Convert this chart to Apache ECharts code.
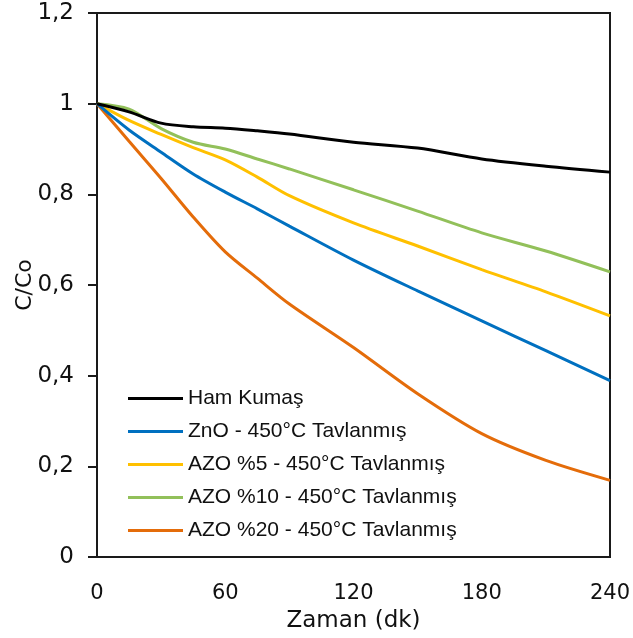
<!DOCTYPE html>
<html>
<head>
<meta charset="utf-8">
<script src="https://cdn.jsdelivr.net/npm/echarts@6/dist/echarts.min.js"></script>
<style>html,body{margin:0;padding:0;background:#fff}#c{width:633px;height:638px}</style>
</head>
<body>
<div id="c"></div>
<script>
const times = [0, 15, 30, 45, 60, 75, 90, 120, 150, 180, 210, 240];
const hamKumas = [1, 0.982, 0.957, 0.949, 0.946, 0.940, 0.933, 0.915, 0.902, 0.878, 0.862, 0.849];
const zno      = [1, 0.942, 0.893, 0.845, 0.805, 0.768, 0.730, 0.655, 0.587, 0.521, 0.455, 0.389];
const azo5     = [1, 0.963, 0.932, 0.903, 0.876, 0.838, 0.797, 0.737, 0.686, 0.634, 0.585, 0.532];
const azo10    = [1, 0.988, 0.945, 0.915, 0.900, 0.878, 0.856, 0.810, 0.763, 0.715, 0.675, 0.629];
const azo20    = [1, 0.917, 0.835, 0.750, 0.673, 0.615, 0.558, 0.462, 0.360, 0.272, 0.213, 0.169];
const seriesNames = ['Ham Kumaş', 'ZnO - 450°C Tavlanmış', 'AZO %5 - 450°C Tavlanmış', 'AZO %10 - 450°C Tavlanmış', 'AZO %20 - 450°C Tavlanmış'];
const seriesData = [hamKumas, zno, azo5, azo10, azo20];
const colors = ['#000000', '#0070C0', '#FFC000', '#92C05A', '#E46C0A'];

const font = 'Liberation Sans, Arial, sans-serif';
const axisFont = 'DejaVu Sans, sans-serif';
const chart = echarts.init(document.getElementById('c'), null, {renderer: 'canvas'});
chart.setOption({
  animation: false,
  color: colors,
  textStyle: {fontFamily: font, color: '#111'},
  grid: {left: 97, right: 23, top: 13, bottom: 81, show: true, borderColor: '#1a1a1a', borderWidth: 2,
    backgroundColor: 'transparent', containLabel: false, outerBoundsMode: 'none'},
  legend: {
    orient: 'vertical', left: 123, top: 383,
    itemWidth: 55, itemHeight: 21, itemGap: 12,
    icon: 'path://M0,9 L55,9 L55,12 L0,12 Z',
    textStyle: {fontSize: 21, color: '#111', fontFamily: font},
    data: seriesNames
  },
  xAxis: {
    type: 'value', min: 0, max: 240, interval: 60,
    name: 'Zaman (dk)', nameLocation: 'middle', nameGap: 53, nameMoveOverlap: false,
    nameTextStyle: {fontSize: 23, color: '#111', fontFamily: axisFont},
    axisLine: {show: true, lineStyle: {color: '#1a1a1a', width: 2}},
    axisTick: {show: false},
    splitLine: {show: false},
    axisLabel: {fontSize: 21, color: '#111', margin: 26, fontFamily: axisFont}
  },
  yAxis: {
    type: 'value', min: 0, max: 1.2, interval: 0.2,
    name: 'C/Co', nameLocation: 'middle', nameGap: 61, nameMoveOverlap: false,
    nameTextStyle: {fontSize: 22, color: '#111', fontFamily: axisFont},
    axisLine: {show: true, lineStyle: {color: '#1a1a1a', width: 2}},
    axisTick: {show: true, inside: false, length: 9, lineStyle: {color: '#1a1a1a', width: 2}},
    splitLine: {show: false},
    axisLabel: {fontSize: 23, color: '#111', margin: 23, fontFamily: axisFont,
      formatter: v => String(Math.round(v * 10) / 10).replace('.', ',')}
  },
  series: seriesNames.map((n, i) => ({
    name: n, type: 'line', smooth: 0.3, showSymbol: false, symbol: 'none',
    lineStyle: {width: 3, color: colors[i]},
    data: times.map((t, j) => [t, seriesData[i][j]]),
    z: 10 - i
  }))
});
</script>
</body>
</html>
